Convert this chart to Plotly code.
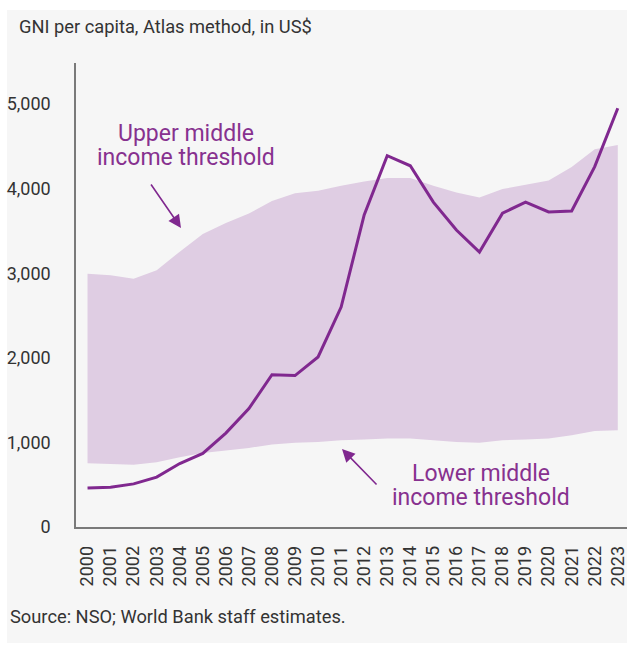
import plotly.graph_objects as go

# GNI per capita (Atlas method, current US$) and World Bank income thresholds
years = list(range(2000, 2024))
gni_per_capita = [460, 470, 510, 590, 750, 870, 1110, 1400, 1800, 1790, 2010, 2600,
                  3690, 4390, 4270, 3840, 3510, 3250, 3710, 3840, 3725, 3735, 4260, 4950]
lower_middle_threshold = [755, 745, 735, 765, 825, 875, 905, 935, 975, 995, 1005, 1025,
                          1035, 1045, 1045, 1025, 1005, 995, 1025, 1035, 1045, 1085, 1135, 1145]
upper_middle_threshold = [2995, 2975, 2935, 3035, 3255, 3465, 3595, 3705, 3855, 3945, 3975, 4035,
                          4085, 4125, 4125, 4035, 3955, 3895, 3995, 4045, 4095, 4255, 4465, 4515]
y_ticks = [0, 1000, 2000, 3000, 4000, 5000]

PURPLE = "#80288f"
TEXT_PURPLE = "#87318f"
BAND = "#dfcde3"
PANEL = "#f6f6f6"
FONT = "Roboto"
TEXT = "#333333"

fig = go.Figure()

# Middle-income band between the two thresholds
fig.add_trace(go.Scatter(x=years, y=lower_middle_threshold, mode="lines",
                         line=dict(width=0, color=BAND), hoverinfo="skip", showlegend=False))
fig.add_trace(go.Scatter(x=years, y=upper_middle_threshold, mode="lines",
                         line=dict(width=0, color=BAND), fill="tonexty", fillcolor=BAND,
                         hoverinfo="skip", showlegend=False))

# GNI per capita line
fig.add_trace(go.Scatter(x=years, y=gni_per_capita, mode="lines",
                         line=dict(width=3, color=PURPLE), showlegend=False))

W, H = 627, 648
L, R, T, B = 76, 0, 63, 121
pw, ph = W - L - R, H - T - B


def px_x(p):
    return (p - L) / pw


def px_y(p):
    return (H - B - p) / ph


# Light grey card behind the whole chart
fig.add_shape(type="rect", xref="paper", yref="paper",
              x0=px_x(7), x1=px_x(627), y0=px_y(643), y1=px_y(10),
              fillcolor=PANEL, line=dict(width=0), layer="below")


def label(text, x, y, size, color, anchor="center"):
    return dict(text=text, xref="paper", yref="paper", x=px_x(x), y=px_y(y),
                xanchor=anchor, yanchor="middle", showarrow=False,
                font=dict(family=FONT, size=size, color=color))


annotations = [
    label("GNI per capita, Atlas method, in US$", 17, 27, 18.3, TEXT, "left"),
    label("Source: NSO; World Bank staff estimates.", 8, 616, 18.3, TEXT, "left"),
    label("Upper middle", 186, 133, 23, TEXT_PURPLE),
    label("income threshold", 186, 157, 23, TEXT_PURPLE),
    label("Lower middle", 481, 473, 23, TEXT_PURPLE),
    label("income threshold", 481, 497, 23, TEXT_PURPLE),
    # arrows pointing at the band edges
    dict(text="", xref="paper", yref="paper", x=px_x(181), y=px_y(228),
         ax=-31, ay=-45, showarrow=True, arrowhead=2, arrowsize=1.6, arrowwidth=1.6,
         arrowcolor=PURPLE),
    dict(text="", xref="paper", yref="paper", x=px_x(342), y=px_y(449),
         ax=36, ay=37, showarrow=True, arrowhead=2, arrowsize=1.6, arrowwidth=1.6,
         arrowcolor=PURPLE),
]

fig.update_layout(
    width=W, height=H,
    margin=dict(l=L, r=R, t=T, b=B),
    paper_bgcolor="white",
    plot_bgcolor="rgba(0,0,0,0)",
    separators=".,",
    font=dict(family=FONT, size=18, color=TEXT),
    annotations=annotations,
    xaxis=dict(range=[1999.5, 2023.4], tickmode="array", tickvals=years,
               ticktext=[str(y) for y in years], tickangle=-90, ticklabeloverflow="allow",
               showgrid=False, zeroline=False, showline=True, linecolor="#7a7a7a",
               linewidth=1.5, ticks="outside", ticklen=10, tickcolor="rgba(0,0,0,0)",
               tickfont=dict(family=FONT, size=18, color=TEXT)),
    yaxis=dict(range=[0, 5485], tickmode="array", tickvals=y_ticks, tickformat=",d",
               showgrid=False, zeroline=False, showline=True, linecolor="#7a7a7a",
               linewidth=1.5, ticks="outside", ticklen=20, tickcolor="rgba(0,0,0,0)",
               tickfont=dict(family=FONT, size=18, color=TEXT)),
)

fig.write_html("out.html")
